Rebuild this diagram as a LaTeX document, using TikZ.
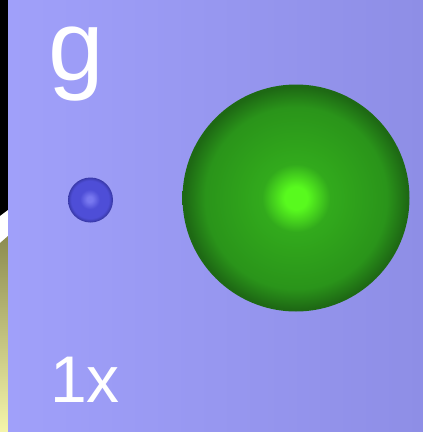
\documentclass[tikz,border=0pt]{standalone}
\usepackage{fontspec}
\setmainfont{Liberation Sans}
\definecolor{lavleft}{RGB}{160,160,250}
\definecolor{lavright}{RGB}{142,142,230}
\definecolor{stripolive}{RGB}{140,140,80}
\definecolor{stripyellow}{RGB}{245,245,170}
\definecolor{greenhi}{RGB}{88,250,30}
\definecolor{greenmid}{RGB}{50,170,28}
\definecolor{greenbody}{RGB}{42,148,26}
\definecolor{greenrim}{RGB}{30,105,20}
\definecolor{bluehi}{RGB}{120,120,240}
\definecolor{bluebody}{RGB}{78,78,215}
\definecolor{bluerim}{RGB}{55,55,165}
\pgfdeclareradialshading{greenball}{\pgfpoint{0bp}{0bp}}{color(0bp)=(greenhi); color(2.5bp)=(greenhi); color(7.5bp)=(greenmid); color(20bp)=(greenbody); color(24.5bp)=(greenrim); color(50bp)=(greenrim)}
\pgfdeclareradialshading{blueball}{\pgfpoint{-1bp}{1bp}}{color(0bp)=(bluehi); color(3bp)=(bluehi); color(11bp)=(bluebody); color(21bp)=(bluebody); color(25bp)=(bluerim); color(50bp)=(bluerim)}
\tikzset{
  sphere/.style={circle, inner sep=0pt, draw=none},
  biglabel/.style={anchor=base, text=white, inner sep=0pt}
}
\begin{document}
\begin{tikzpicture}[x=1pt,y=-1pt]
  \useasboundingbox (0,0) rectangle (423,432);
  % left edge strip
  \fill[black] (0,0) rectangle (8,218);
  \fill[white] (0,216) .. controls (4,213) .. (8,210) -- (8,236) -- (0,243) -- cycle;
  \shade[top color=stripolive, bottom color=stripyellow] (0,243) -- (8,236) -- (8,432) -- (0,432) -- cycle;
  % panel
  \shade[left color=lavleft, right color=lavright] (8,0) rectangle (423,432);
  % spheres
  \node[sphere, minimum size=45pt, shading=blueball] (small) at (90.5,200) {};
  \node[sphere, minimum size=227pt, shading=greenball] (large) at (296,198) {};
  % labels
  \node[biglabel, font=\fontsize{100}{100}\selectfont] (glabel) at (76,80) {g};
  \node[biglabel, font=\fontsize{66}{66}\selectfont] (scale) at (85,402) {1x};
\end{tikzpicture}
\end{document}
